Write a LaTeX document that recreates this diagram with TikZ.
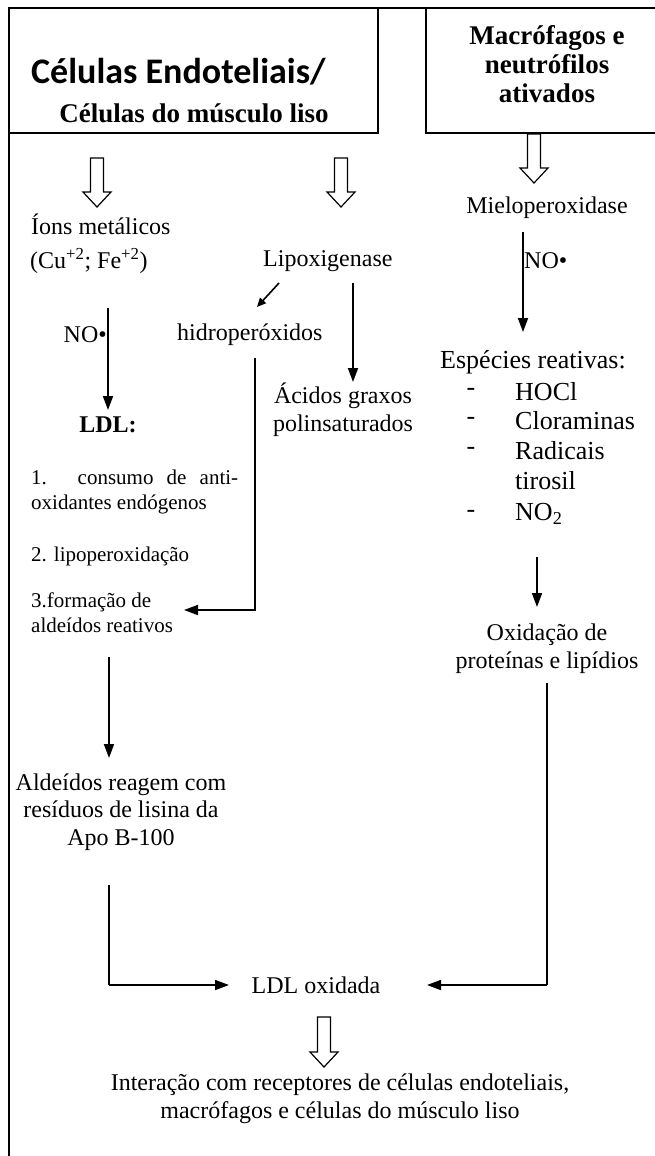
\documentclass[tikz,border=0pt]{standalone}
\usepackage{fontspec}
\setmainfont{Liberation Serif}
\newfontfamily\calb{Carlito}
\usetikzlibrary{arrows.meta}
\newcommand\fs[2]{\fontsize{#1pt}{#2pt}\selectfont}
\newcommand\hollowarr[3]{\draw[hol] (#1-6.5,#2) -- (#1+6.5,#2) -- (#1+6.5,#3-15) -- (#1+14,#3-15) -- (#1,#3) -- (#1-14,#3-15) -- (#1-6.5,#3-15) -- cycle;}
\begin{document}
\begin{tikzpicture}[x=1pt,y=-1pt,
  txt/.style={inner sep=0pt, font=\fs{24}{27.6}},
  big/.style={inner sep=0pt, font=\fs{26}{30}},
  small/.style={inner sep=0pt, font=\fs{21}{25}},
  bx/.style={draw, line width=1.3pt, inner sep=0pt},
  hol/.style={draw, line width=1.2pt, fill=white, line join=miter},
  arr/.style={line width=1.8pt, -{Triangle[length=14pt,width=10pt]}},
  thin/.style={line width=1.2pt},
]
\useasboundingbox (0,0) rectangle (655,1156);
% frame
\draw[line width=1.3pt] (9,1156) -- (9,8);
\node[bx, minimum width=369pt, minimum height=125pt] (b1) at (193.5,70.5) {};
\node[bx, minimum width=234pt, minimum height=125pt] (b2) at (543,70.5) {};
\draw[line width=2.6pt] (8,8) -- (660,8);
% box texts
\node[inner sep=0pt, anchor=west, font=\calb\bfseries\fs{36}{40}] (t1) at (31,72) {Células Endoteliais/};
\node[inner sep=0pt, font=\bfseries\fs{27}{31}] (t2) at (194,113) {Células do músculo liso};
\node[inner sep=0pt, font=\bfseries\fs{27}{29}, align=center] (t3) at (547,64) {Macrófagos e\\neutrófilos\\ativados};
% hollow arrows
\hollowarr{97}{158}{207}
\hollowarr{341}{158}{207}
\hollowarr{534}{134}{183}
% left column
\node[txt, anchor=west] (ions) at (31,224) {Íons metálicos};
\node[txt, anchor=west] (cu) at (30,261) {(Cu\textsuperscript{+2}; Fe\textsuperscript{+2})};
\node[txt, anchor=east] (no1) at (107,335) {NO•};
\coordinate (a1s) at (108,308); \coordinate (a1e) at (108,410);
\draw[arr] (a1s) -- (a1e);
\node[inner sep=0pt, font=\bfseries\fs{24}{27.6}] (ldl) at (108,425) {LDL:};
\node[small, anchor=north west, text width=207pt, align=justify] (l1) at (31,470) {1. consumo de anti-\linebreak oxidantes endógenos};
\node[small, anchor=west] (l2) at (31,556) {2. lipoperoxidação};
\node[small, anchor=north west, align=left] (l3) at (31,593) {3.formação de\\aldeídos reativos};
\coordinate (a2s) at (109,657); \coordinate (a2e) at (109,758);
\draw[arr] (a2s) -- (a2e);
\node[txt, align=center] (aldr) at (121,812) {Aldeídos reagem com\\resíduos de lisina da\\Apo B-100};
% middle column
\node[txt, anchor=west] (lipox) at (263,261) {Lipoxigenase};
\coordinate (d1s) at (279,283); \coordinate (d1e) at (257,307);
\draw[line width=1.6pt, -{Triangle[length=9pt,width=8pt]}] (d1s) -- (d1e);
\node[txt, anchor=west] (hidro) at (177,335) {hidroperóxidos};
\coordinate (lps) at (353,283); \coordinate (lpe) at (353,382);
\draw[arr] (lps) -- (lpe);
\node[txt, align=center] (acid) at (343,410) {Ácidos graxos\\polinsaturados};
\coordinate (h1) at (255,358); \coordinate (h2) at (255,610); \coordinate (h3) at (184,610);
\draw[arr] (h1) -- (h2) -- (h3);
% right column
\node[txt] (mielo) at (547,208) {Mieloperoxidase};
\coordinate (r1s) at (523,232); \coordinate (r1e) at (523,332);
\draw[arr] (r1s) -- (r1e);
\node[txt, anchor=west] (no2) at (524,261) {NO•};
\node[big, anchor=west] (esp) at (440,362) {Espécies reativas:};
\foreach \n/\y/\t in {s1/392/HOCl, s2/421/Cloraminas, s3/451/Radicais, s4/481/tirosil, s5/514/NO\textsubscript{2}}{
  \node[big, anchor=west] (\n) at (515,\y) {\t};
}
\foreach \n/\y in {k1/392, k2/421, k3/451, k5/514}{
  \node[big] (\n) at (471,\y) {-};
}
\coordinate (r2s) at (537,557); \coordinate (r2e) at (537,607);
\draw[arr] (r2s) -- (r2e);
\node[txt, align=center] (oxid) at (547,649) {Oxidação de\\proteínas e lipídios};
% bottom
\node[txt] (ldlox) at (316,985) {LDL oxidada};
\coordinate (p1) at (109,885); \coordinate (p2) at (109,985); \coordinate (p3) at (229,985);
\draw[thin] (p1) -- (p2);
\draw[arr] (p2) -- (p3);
\coordinate (q1) at (547,683); \coordinate (q2) at (547,985); \coordinate (q3) at (427,985);
\draw[thin] (q1) -- (q2);
\draw[arr] (q2) -- (q3);
\hollowarr{324}{1017}{1067}
\node[txt, align=center] (inter) at (340,1099) {Interação com receptores de células endoteliais,\\macrófagos e células do músculo liso};
\end{tikzpicture}
\end{document}
